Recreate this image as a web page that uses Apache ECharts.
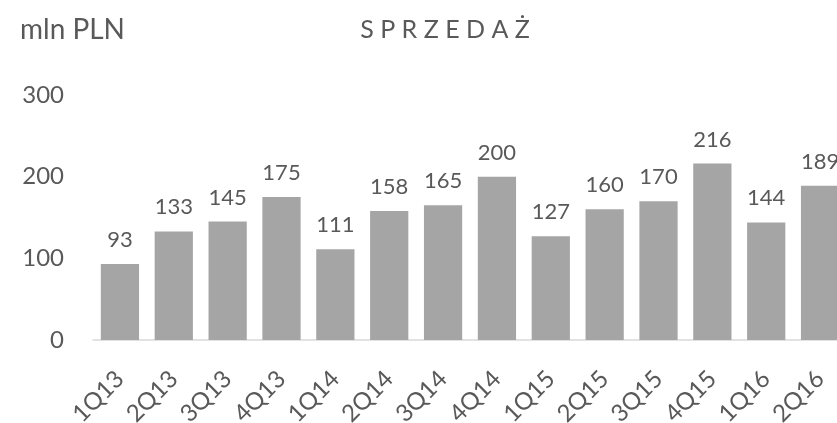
<!DOCTYPE html>
<html>
<head>
<meta charset="utf-8">
<script src="https://cdn.jsdelivr.net/npm/echarts@6/dist/echarts.min.js"></script>
<style>
  html, body { margin: 0; padding: 0; background: #fff; }
  #chart { width: 837px; height: 423px; }
</style>
</head>
<body>
<div id="chart"></div>
<script>
const categories = ['1Q13', '2Q13', '3Q13', '4Q13', '1Q14', '2Q14', '3Q14', '4Q14', '1Q15', '2Q15', '3Q15', '4Q15', '1Q16', '2Q16'];
const sales = [93, 133, 145, 175, 111, 158, 165, 200, 127, 160, 170, 216, 144, 189];
const yTicks = [0, 100, 200, 300];

const textColor = '#595959';
const font = 'Lato, "Open Sans", sans-serif';

const chart = echarts.init(document.getElementById('chart'));

chart.setOption({
  animation: false,
  textStyle: { fontFamily: font },
  title: {
    text: 'S P R Z E D A Ż',
    left: 440,
    textAlign: 'center',
    top: 12,
    textStyle: { color: textColor, fontSize: 25, fontWeight: 'normal', fontFamily: font },
  },
  graphic: [{
    type: 'text',
    left: 20,
    top: 16,
    style: { text: 'mln PLN', fill: textColor, font: '28px ' + font },
  }],
  // the last bar runs past the right edge in the original
  grid: { left: 93, top: 95, width: 754, height: 245, outerBoundsMode: 'none', containLabel: false },
  xAxis: {
    type: 'category',
    data: categories,
    axisLine: { lineStyle: { color: '#d9d9d9', width: 1.5 } },
    axisTick: { show: false },
    axisLabel: { color: textColor, fontSize: 24, rotate: 45, margin: 35, interval: 0 },
  },
  yAxis: {
    type: 'value',
    min: yTicks[0],
    max: yTicks[yTicks.length - 1],
    interval: 100,
    splitLine: { show: false },
    axisLine: { show: false },
    axisTick: { show: false },
    axisLabel: { color: textColor, fontSize: 24, margin: 29 },
  },
  series: [{
    type: 'bar',
    data: sales,
    barCategoryGap: '29%',
    itemStyle: { color: '#a5a5a5' },
    label: {
      show: true,
      position: 'top',
      distance: 13,
      color: textColor,
      fontSize: 22,
    },
  }],
});
</script>
</body>
</html>
